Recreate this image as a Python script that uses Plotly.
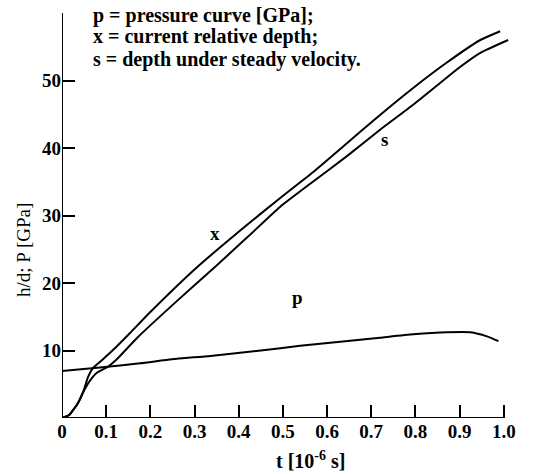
import plotly.graph_objects as go

# data
t_x = [0, 0.016, 0.036, 0.048, 0.059, 0.070, 0.091, 0.116, 0.154, 0.20, 0.30, 0.40, 0.494, 0.568, 0.645, 0.720, 0.795, 0.872, 0.947, 0.992]
h_x = [0, 0.44, 2.2, 3.85, 6.1, 7.4, 8.6, 10.1, 12.6, 15.7, 22.0, 27.6, 32.6, 36.4, 40.7, 44.9, 48.9, 52.7, 56.0, 57.3]

t_s = [0, 0.016, 0.036, 0.048, 0.063, 0.079, 0.104, 0.127, 0.172, 0.263, 0.35, 0.42, 0.494, 0.568, 0.645, 0.720, 0.795, 0.901, 0.947, 1.01]
h_s = [0, 0.44, 2.2, 3.85, 5.5, 6.7, 7.6, 8.9, 12.0, 17.5, 22.6, 26.8, 31.3, 35.0, 38.8, 42.7, 46.4, 52.0, 54.1, 56.0]

t_p = [0, 0.086, 0.177, 0.249, 0.336, 0.45, 0.539, 0.63, 0.72, 0.795, 0.872, 0.924, 0.962, 0.988]
p_p = [6.96, 7.5, 8.1, 8.7, 9.2, 10.0, 10.7, 11.3, 11.9, 12.4, 12.7, 12.7, 12.1, 11.4]

x_ticks = [0, 0.1, 0.2, 0.3, 0.4, 0.5, 0.6, 0.7, 0.8, 0.9, 1.0]
x_ticktext = ["0", "0.1", "0.2", "0.3", "0.4", "0.5", "0.6", "0.7", "0.8", "0.9", "1.0"]
y_ticks = [10, 20, 30, 40, 50]

legend_lines = ["p = pressure curve [GPa];",
                "x = current relative depth;",
                "s = depth under steady velocity."]

FONT = "Liberation Serif, Times New Roman, serif"
line = dict(color="black", width=2, shape="spline", smoothing=0.5)

fig = go.Figure()
fig.add_trace(go.Scatter(x=t_x, y=h_x, mode="lines", line=line, name="x"))
fig.add_trace(go.Scatter(x=t_s, y=h_s, mode="lines", line=line, name="s"))
fig.add_trace(go.Scatter(x=t_p, y=p_p, mode="lines", line=line, name="p"))

tickfont = dict(size=19, family=FONT, weight="bold")

fig.update_layout(
    width=535, height=474,
    margin=dict(l=62, r=18, t=13, b=56),
    paper_bgcolor="white", plot_bgcolor="white",
    showlegend=False,
    font=dict(family=FONT, color="black", size=19),
    xaxis=dict(range=[0, 1.03], showgrid=False, zeroline=False, showline=False,
               tickvals=x_ticks, ticktext=x_ticktext, ticks="inside", ticklen=13,
               tickwidth=1.5, tickcolor="black", tickfont=tickfont),
    yaxis=dict(range=[0, 60], showgrid=False, zeroline=False, showline=False,
               tickvals=y_ticks, ticks="inside", ticklen=13,
               tickwidth=1.5, tickcolor="black", tickfont=tickfont),
)

# axis lines
fig.add_shape(type="line", xref="x", yref="y", x0=0, y0=0, x1=1.0, y1=0,
              line=dict(color="black", width=2))
fig.add_shape(type="line", xref="x", yref="y", x0=0, y0=0, x1=0, y1=60,
              line=dict(color="black", width=2))

# legend text
for i, txt in enumerate(legend_lines):
    fig.add_annotation(text=txt, xref="x", yref="paper", x=0.066, y=[0.995, 0.941, 0.886][i],
                       xanchor="left", yanchor="middle", showarrow=False,
                       font=dict(size=20, family=FONT, weight="bold"))

# curve labels
for lbl, tx, vy in [("x", 0.347, 27.4), ("s", 0.731, 41.2), ("p", 0.532, 17.8)]:
    fig.add_annotation(text=lbl, x=tx, y=vy, xref="x", yref="y", showarrow=False,
                       font=dict(size=19, family=FONT, weight="bold"))

# axis titles
fig.add_annotation(text="t [10<sup>-6</sup> s]", xref="paper", yref="paper",
                   x=(310 - 62) / 455, y=-(460 - 418) / 405, xanchor="center", yanchor="middle",
                   showarrow=False, font=dict(size=20, family=FONT, weight="bold"))
fig.add_annotation(text="h/d; P [GPa]", xref="paper", yref="paper",
                   x=-(62 - 23) / 455, y=(418 - 250) / 405, xanchor="center", yanchor="middle",
                   textangle=-90, showarrow=False, font=dict(size=19, family=FONT))

fig.write_html("out.html")
